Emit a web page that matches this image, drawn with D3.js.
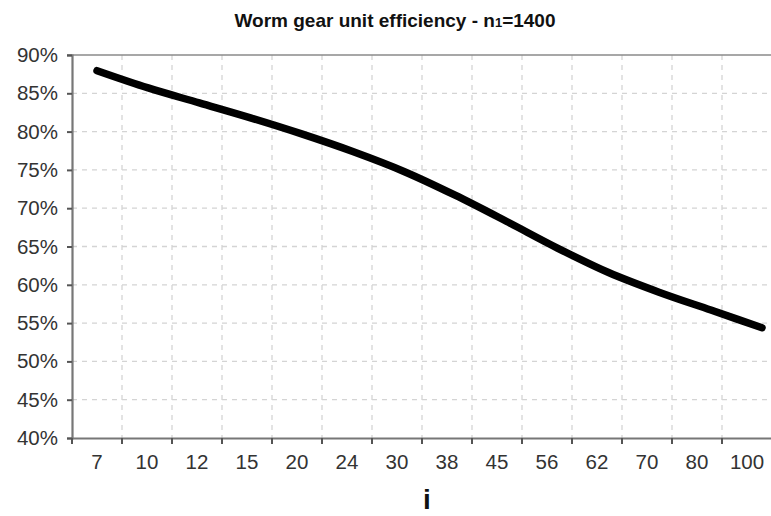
<!DOCTYPE html>
<html>
<head>
<meta charset="utf-8">
<script src="https://cdn.jsdelivr.net/npm/d3@7"></script>
<style>
  body { margin: 0; background: #fff; }
  svg { display: block; font-family: "Liberation Sans", Arial, sans-serif; }
</style>
</head>
<body>
<div id="chart"></div>
<script>
// chart data
const ratios = ["7", "10", "12", "15", "20", "24", "30", "38", "45", "56", "62", "70", "80", "100"];
const efficiency = [87.95, 85.7, 83.75, 81.8, 79.7, 77.4, 74.8, 71.7, 68.3, 64.8, 61.6, 59.0, 56.7, 54.4];
const yTicks = [40, 45, 50, 55, 60, 65, 70, 75, 80, 85, 90];

let margin = { top: 55, left: 72, right: 0, bottom: 78 },
    width = 700,
    height = 516 - margin.top - margin.bottom;

let svg = d3.select("#chart").append("svg")
    .attr("width", 771)
    .attr("height", 516);

let g = svg.append("g")
    .attr("transform", "translate(" + margin.left + "," + margin.top + ")");

// scales
let x = d3.scaleBand().domain(ratios).range([0, width]);
let y = d3.scaleLinear().domain([40, 90]).range([height, 0]);
// the curve runs from the first band centre to a bit past the last one
let xLine = d3.scalePoint().domain(ratios).range([x.bandwidth() / 2, 690]);

// horizontal grid
g.append("g")
    .selectAll("line")
    .data(yTicks.filter(d => d > 40 && d < 90))
    .enter().append("line")
    .attr("x1", 0).attr("x2", width)
    .attr("y1", d => y(d)).attr("y2", d => y(d))
    .attr("stroke", "#d4d4d4")
    .attr("stroke-width", 1.3)
    .attr("stroke-dasharray", "5,5");

// vertical grid at band edges
g.append("g")
    .selectAll("line")
    .data(ratios.slice(1))
    .enter().append("line")
    .attr("x1", d => x(d)).attr("x2", d => x(d))
    .attr("y1", 0).attr("y2", height)
    .attr("stroke", "#d4d4d4")
    .attr("stroke-width", 1.3)
    .attr("stroke-dasharray", "5,5");

// top frame line
g.append("line")
    .attr("x1", -5).attr("x2", width)
    .attr("y1", y(90)).attr("y2", y(90))
    .attr("stroke", "#8a8a8a")
    .attr("stroke-width", 1.5);

// y axis
let yAxis = g.append("g")
    .call(d3.axisLeft(y).tickValues(yTicks).tickSize(5).tickPadding(9).tickFormat(d => d + "%"));
yAxis.select(".domain").attr("stroke", "#777").attr("stroke-width", 2.2);
yAxis.selectAll(".tick line").attr("stroke", "#555").attr("stroke-width", 2);
yAxis.selectAll("text")
    .attr("fill", "#333")
    .style("font-size", "20.5px");

// x axis with ticks at the band edges
let xAxis = g.append("g")
    .attr("transform", "translate(0," + height + ")")
    .call(d3.axisBottom(x).tickSize(0).tickPadding(16));
xAxis.select(".domain").attr("stroke", "#777").attr("stroke-width", 2.2);
xAxis.selectAll("text")
    .attr("fill", "#333")
    .style("font-size", "20.5px");
xAxis.selectAll(".edge")
    .data(ratios)
    .enter().append("line")
    .attr("class", "edge")
    .attr("x1", d => x(d)).attr("x2", d => x(d))
    .attr("y1", 0).attr("y2", 6)
    .attr("stroke", "#555")
    .attr("stroke-width", 2);

// efficiency curve
let line = d3.line()
    .x((d, i) => xLine(ratios[i]))
    .y(d => y(d))
    .curve(d3.curveMonotoneX);

g.append("path")
    .datum(efficiency)
    .attr("d", line)
    .attr("fill", "none")
    .attr("stroke", "#000")
    .attr("stroke-width", 7.5)
    .attr("stroke-linecap", "round")
    .attr("stroke-linejoin", "round");

// title
let title = svg.append("text")
    .attr("x", 395)
    .attr("y", 27)
    .attr("text-anchor", "middle")
    .style("font-size", "19px")
    .style("font-weight", "bold")
    .attr("fill", "#111");
title.append("tspan").text("Worm gear unit efficiency  - n");
title.append("tspan").style("font-size", "13px").text("1");
title.append("tspan").text("=1400");

// x axis label
svg.append("text")
    .attr("x", 427)
    .attr("y", 509)
    .attr("text-anchor", "middle")
    .style("font-size", "28px")
    .style("font-weight", "bold")
    .attr("fill", "#111")
    .text("i");
</script>
</body>
</html>
